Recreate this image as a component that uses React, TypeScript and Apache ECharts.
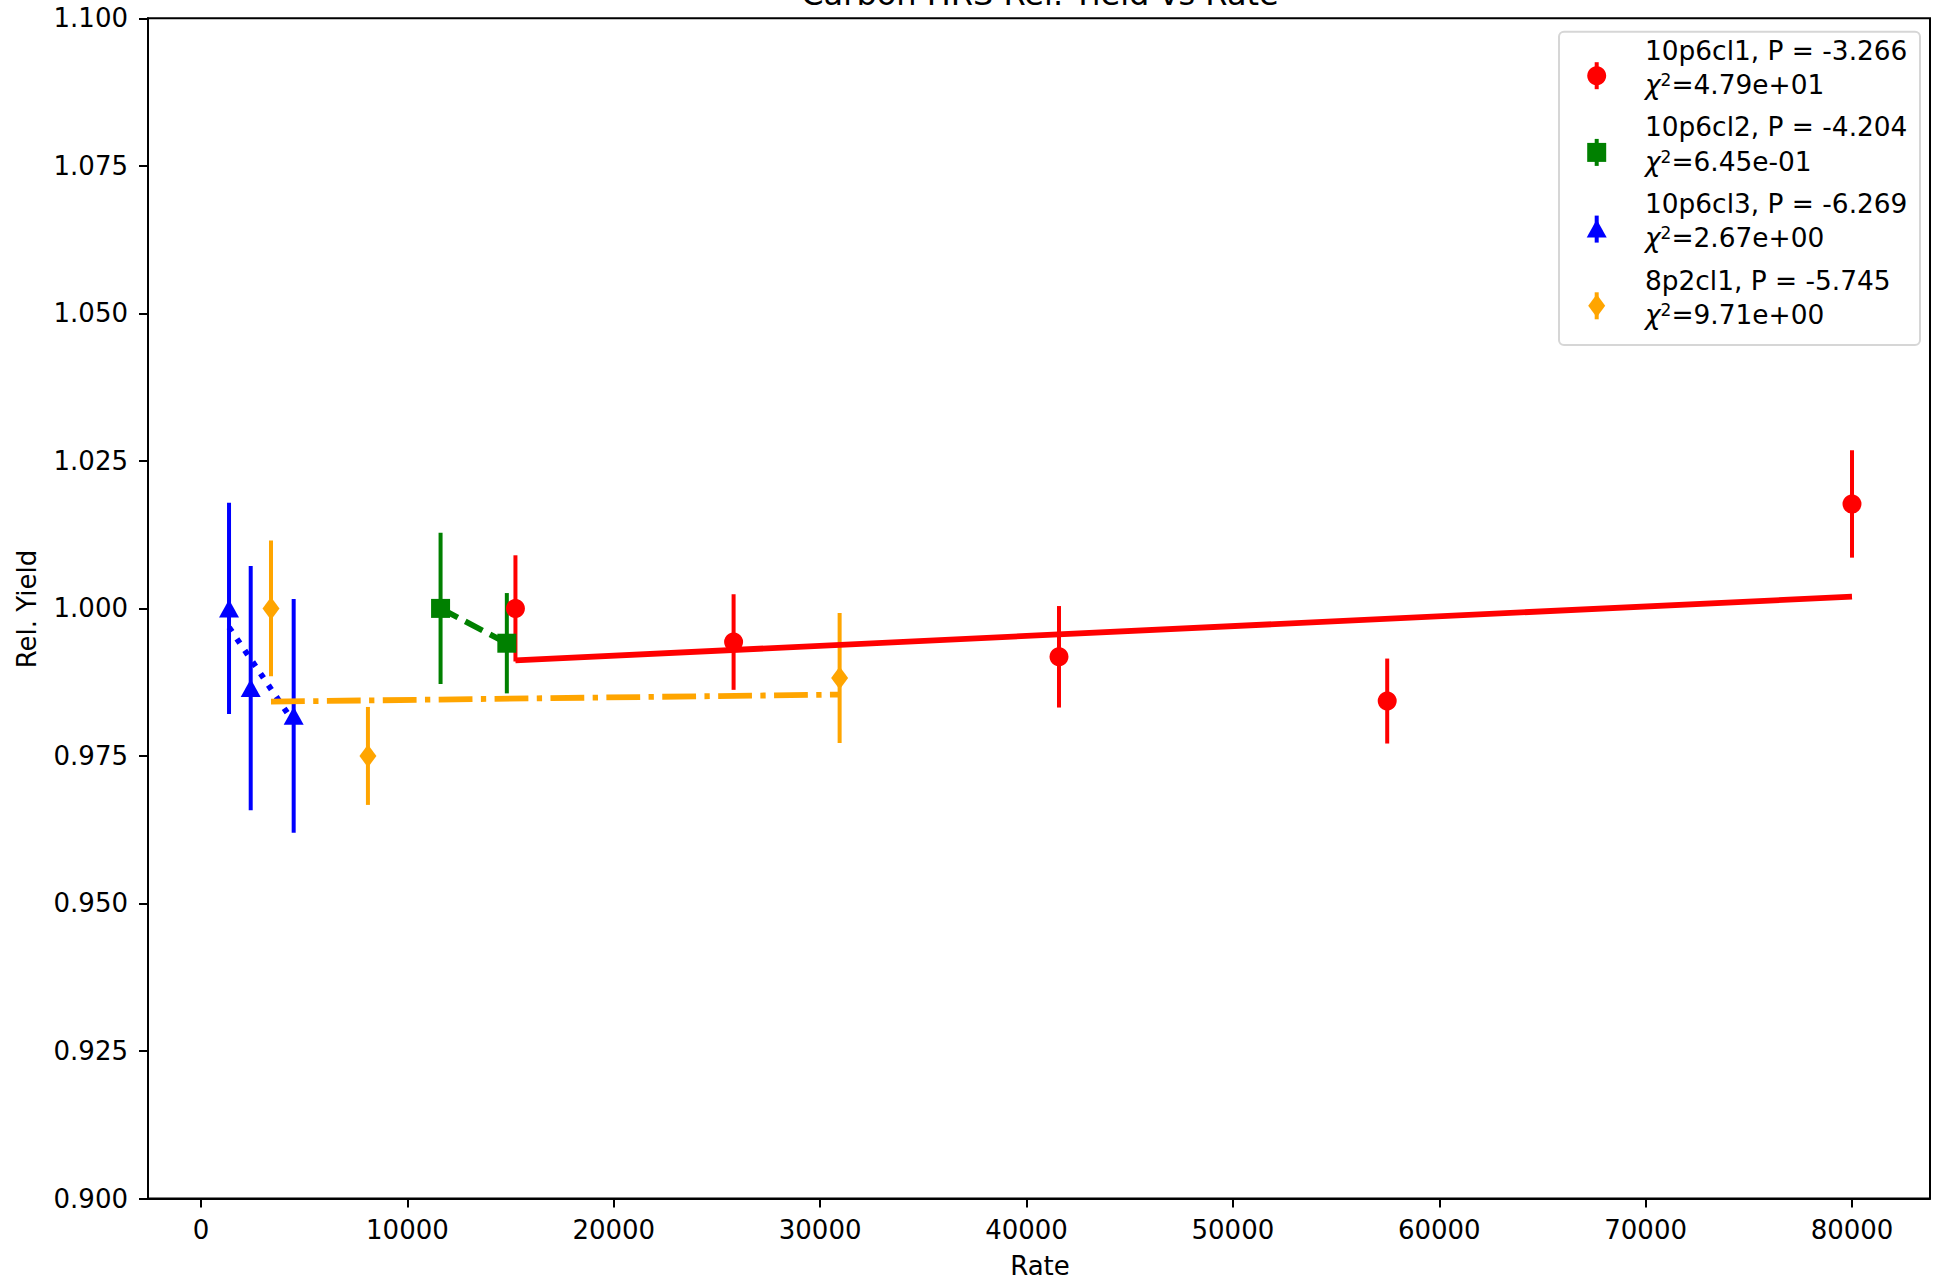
import React, { useEffect, useRef } from "react";
import * as echarts from "echarts";

const FONT = "DejaVu Sans";

// ---- data ----
const redX = [15235, 25806, 41574, 57478, 80000];
const redY = [1.0, 0.9943, 0.9918, 0.9843, 1.0177];
const redErr = [0.009, 0.0081, 0.0086, 0.0072, 0.0091];

const greenX = [11607, 14818];
const greenY = [1.0, 0.9941];
const greenErr = [0.0128, 0.0085];

const blueX = [1356, 2407, 4489];
const blueY = [1.0, 0.9865, 0.9818];
const blueErr = [0.0179, 0.0207, 0.0198];

const orangeX = [3390, 8087, 30944];
const orangeY = [1.0, 0.975, 0.9882];
const orangeErr = [0.0115, 0.0083, 0.011];

const redFit = [[15235, 0.9912], [80000, 1.002]];
const greenFit = [[11607, 1.0], [14818, 0.9941]];
const blueFit = [[1356, 0.9968], [4489, 0.9807]];
const orangeFit = [[3390, 0.9842], [30944, 0.9854]];

const xTicks = [0, 10000, 20000, 30000, 40000, 50000, 60000, 70000, 80000];

const legendNames = ["10p6cl1, P = -3.266", "10p6cl2, P = -4.204", "10p6cl3, P = -6.269", "8p2cl1, P = -5.745"];
const legendChi = ["4.79e+01", "6.45e-01", "2.67e+00", "9.71e+00"];
const legendColors = ["#ff0000", "#008000", "#0000ff", "#ffa500"];

const TITLE = "Carbon HRS Rel. Yield vs Rate";
const X_NAME = "Rate";
const Y_NAME = "Rel. Yield";

function errSeries(xs: number[], ys: number[], es: number[], color: string) {
  return {
    type: "custom",
    silent: true,
    data: xs.map((x, i) => [x, ys[i], es[i]]),
    encode: { x: 0, y: 1 },
    renderItem: (_p: any, api: any) => {
      const x = api.value(0);
      const y = api.value(1);
      const e = api.value(2);
      const a = api.coord([x, y - e]);
      const b = api.coord([x, y + e]);
      return {
        type: "line",
        shape: { x1: a[0], y1: a[1], x2: b[0], y2: b[1] },
        style: { stroke: color, lineWidth: 4 },
      };
    },
  };
}

function markerSeries(xs: number[], ys: number[], color: string, symbol: string, size: any) {
  return {
    type: "scatter",
    silent: true,
    data: xs.map((x, i) => [x, ys[i]]),
    symbol,
    symbolSize: size,
    itemStyle: { color, opacity: 1 },
  };
}

function fitSeries(fit: number[][], color: string, dash: any) {
  return {
    type: "line",
    silent: true,
    data: fit,
    symbol: "none",
    showSymbol: false,
    lineStyle: { color, width: 5.8, type: dash, cap: "butt" },
    z: 3,
  };
}

function legendMarker(i: number, cx: number, cy: number, color: string) {
  if (i === 0) return { type: "circle", shape: { cx, cy, r: 9.5 }, style: { fill: color } };
  if (i === 1) return { type: "rect", shape: { x: cx - 9.5, y: cy - 9.5, width: 19, height: 19 }, style: { fill: color } };
  if (i === 2)
    return {
      type: "polygon",
      shape: { points: [[cx, cy - 9.5], [cx + 10, cy + 8.5], [cx - 10, cy + 8.5]] },
      style: { fill: color },
    };
  return {
    type: "polygon",
    shape: { points: [[cx, cy - 11.5], [cx + 8.5, cy], [cx, cy + 11.5], [cx - 8.5, cy]] },
    style: { fill: color },
  };
}

export default function App() {
  const ref = useRef<HTMLDivElement>(null);
  useEffect(() => {
    if (!ref.current) return;
    const chart = echarts.init(ref.current, null, { renderer: "svg" });

    const legendEls: any[] = [];
    legendEls.push({
      type: "rect",
      shape: { x: 1559, y: 31.7, width: 361, height: 313.3, r: 5 },
      style: { fill: "#ffffff", stroke: "#d6d6d6", lineWidth: 2 },
    });
    legendNames.forEach((name, i) => {
      const step = 76.7 * i;
      const mx = 1596.7;
      const my = 75.7 + step;
      const c = legendColors[i];
      legendEls.push({
        type: "line",
        shape: { x1: mx, y1: my - 13.5, x2: mx, y2: my + 13.5 },
        style: { stroke: c, lineWidth: 4 },
      });
      legendEls.push(legendMarker(i, mx, my, c));
      legendEls.push({
        type: "text",
        style: {
          text: name,
          x: 1645,
          y: 50 + step,
          fontSize: 26.4,
          fontFamily: FONT,
          fill: "#000",
          align: "left",
          verticalAlign: "middle",
        },
      });
      legendEls.push({
        type: "text",
        style: {
          text: "{c|χ}{s|2}{n|=" + legendChi[i] + "}",
          x: 1645,
          y: 84.5 + step,
          fill: "#000",
          align: "left",
          verticalAlign: "middle",
          fontFamily: FONT,
          fontSize: 26.4,
          rich: {
            c: { fontSize: 26.4, fontFamily: FONT, fontStyle: "italic", fill: "#000" },
            s: { fontSize: 17, fontFamily: FONT, fill: "#000", padding: [0, 0, 9, 0] },
            n: { fontSize: 26.4, fontFamily: FONT, fill: "#000" },
          },
        },
      });
    });

    const option: any = {
      animation: false,
      backgroundColor: "#ffffff",
      grid: {
        left: 148,
        top: 18.3,
        right: 4,
        bottom: 84.5,
        show: true,
        borderColor: "#000",
        borderWidth: 2,
        backgroundColor: "transparent",
      },
      xAxis: {
        type: "value",
        min: -2570,
        max: 83780,
        axisLine: { show: true, onZero: false, lineStyle: { color: "#000", width: 2 } },
        axisTick: { show: true, length: 9, lineStyle: { color: "#000", width: 2 }, customValues: xTicks },
        axisLabel: {
          customValues: xTicks,
          fontSize: 26,
          fontFamily: FONT,
          color: "#000",
          margin: 18,
          formatter: (v: number) => String(Math.round(v)),
        },
        splitLine: { show: false },
      },
      yAxis: {
        type: "value",
        min: 0.9,
        max: 1.1,
        interval: 0.025,
        axisLine: { show: true, onZero: false, lineStyle: { color: "#000", width: 2 } },
        axisTick: { show: true, length: 9, lineStyle: { color: "#000", width: 2 } },
        axisLabel: {
          fontSize: 26,
          fontFamily: FONT,
          color: "#000",
          margin: 20,
          formatter: (v: number) => v.toFixed(3),
        },
        splitLine: { show: false },
      },
      series: [
        errSeries(redX, redY, redErr, legendColors[0]),
        markerSeries(redX, redY, legendColors[0], "circle", 19),
        errSeries(greenX, greenY, greenErr, legendColors[1]),
        markerSeries(greenX, greenY, legendColors[1], "rect", 19),
        errSeries(blueX, blueY, blueErr, legendColors[2]),
        markerSeries(blueX, blueY, legendColors[2], "triangle", [20, 18]),
        errSeries(orangeX, orangeY, orangeErr, legendColors[3]),
        markerSeries(orangeX, orangeY, legendColors[3], "diamond", [17, 23]),
        fitSeries(redFit, legendColors[0], "solid"),
        fitSeries(greenFit, legendColors[1], [19.5, 8.4]),
        fitSeries(blueFit, legendColors[2], [5.3, 8.7]),
        fitSeries(orangeFit, legendColors[3], [33.8, 8.4, 5.3, 8.4]),
      ],
      graphic: [
        {
          type: "text",
          style: {
            text: TITLE,
            x: 1040,
            y: -6,
            fontSize: 32,
            fontFamily: FONT,
            fill: "#000",
            align: "center",
            verticalAlign: "middle",
          },
        },
        {
          type: "text",
          style: {
            text: X_NAME,
            x: 1040,
            y: 1266,
            fontSize: 26,
            fontFamily: FONT,
            fill: "#000",
            align: "center",
            verticalAlign: "middle",
          },
        },
        {
          type: "text",
          x: 27,
          y: 609,
          rotation: Math.PI / 2,
          style: {
            text: Y_NAME,
            x: 0,
            y: 0,
            fontSize: 26,
            fontFamily: FONT,
            fill: "#000",
            align: "center",
            verticalAlign: "middle",
          },
        },
        { type: "group", children: legendEls },
      ],
    };
    chart.setOption(option);
    return () => chart.dispose();
  }, []);
  return (
    <div
      ref={ref}
      style={{ position: "absolute", left: 0, top: 0, width: "1934px", height: "1283px" }}
    />
  );
}
